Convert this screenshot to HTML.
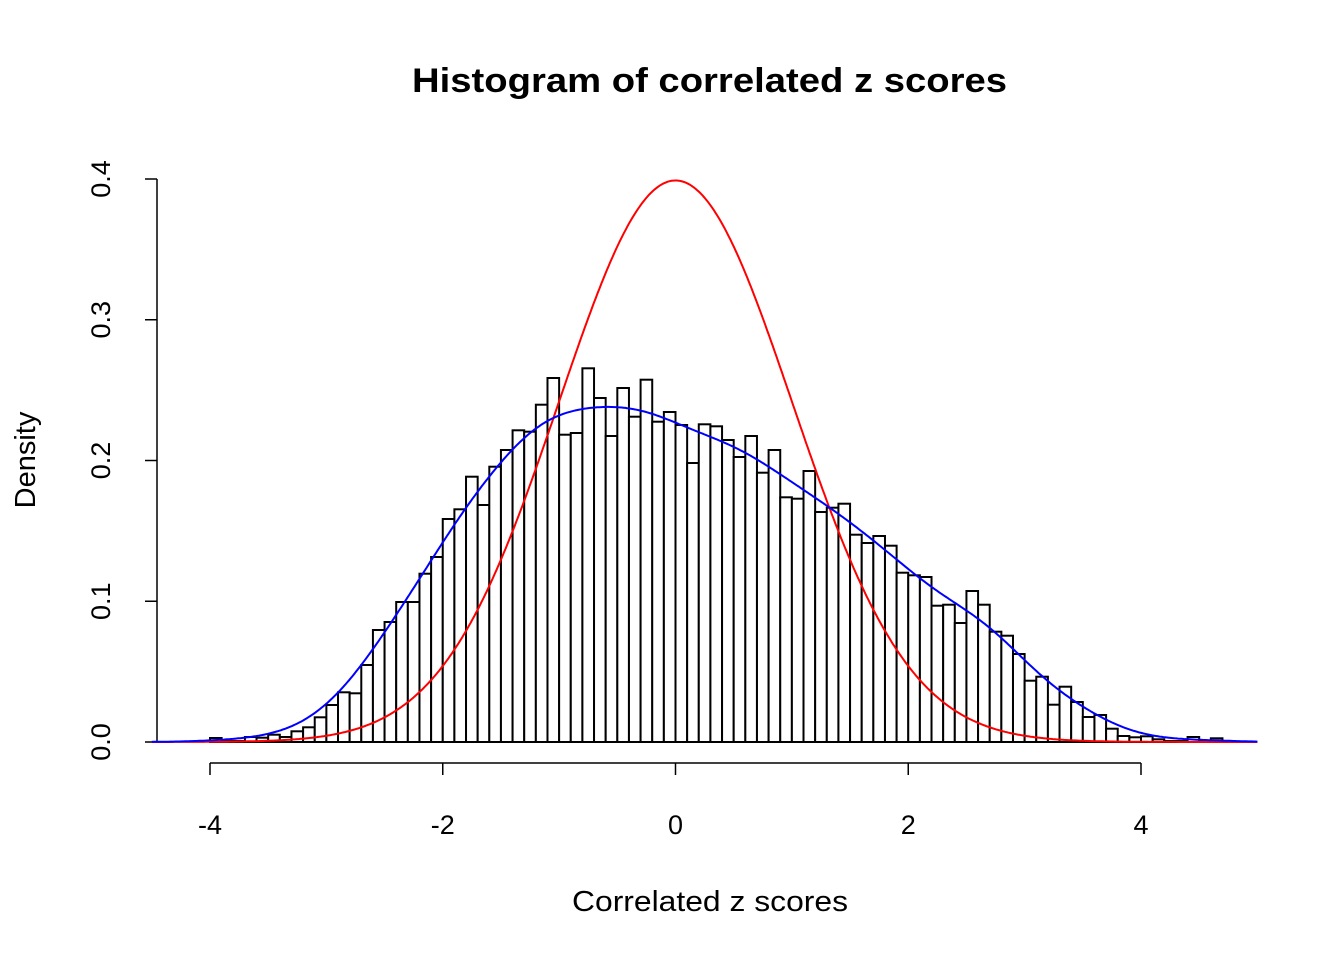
<!DOCTYPE html>
<html><head><meta charset="utf-8"><style>body{margin:0;background:#fff}svg{display:block}text{font-family:"Liberation Sans",Arial,sans-serif;fill:#000}</style></head>
<body>
<svg id="s" width="1344" height="960" xmlns="http://www.w3.org/2000/svg">
<text x="412" y="92" font-size="34" font-weight="bold" textLength="595" lengthAdjust="spacingAndGlyphs">Histogram of correlated z scores</text>
<text x="572" y="911" font-size="29" textLength="276" lengthAdjust="spacingAndGlyphs">Correlated z scores</text>
<text transform="translate(35,460) rotate(-90)" font-size="29" text-anchor="middle">Density</text>
<g stroke="#000" stroke-width="1.5" fill="none">
<line x1="157" y1="179" x2="157" y2="742"/>
<line x1="210" y1="763" x2="1141" y2="763"/>
</g>
<g id="ax"></g>
<g id="bars" stroke="#000" stroke-width="2" fill="#fff"></g>
<path id="red" stroke="#f00" stroke-width="2" fill="none"/>
<path id="blue" stroke="#00f" stroke-width="2" fill="none"/>
</svg>
<script>
var X=function(v){return 675.5+v*116.375}, Y0=742;
var ax=document.getElementById('ax'),h='';
for(var i=0;i<=4;i++){var y=742-i*140.75;h+='<line x1="157" y1="'+y+'" x2="145" y2="'+y+'" stroke="#000" stroke-width="1.5"/><text transform="translate(110,'+y+') rotate(-90)" font-size="27" text-anchor="middle">'+(i/10).toFixed(1)+'</text>';}
for(var v=-4;v<=4;v+=2){var x=X(v);h+='<line x1="'+x+'" y1="763" x2="'+x+'" y2="775" stroke="#000" stroke-width="1.5"/><text x="'+x+'" y="834" font-size="27" text-anchor="middle">'+v+'</text>';}
ax.innerHTML=h;
var tops={"-4.0":738,"-3.9":741,"-3.8":741,"-3.7":737,"-3.6":737.7,"-3.5":734.7,"-3.4":737,"-3.3":731.3,"-3.2":727.3,"-3.1":717.3,"-3.0":705,"-2.9":692.3,"-2.8":693.3,"-2.7":665,"-2.6":630,"-2.5":622,"-2.4":602,"-2.3":602,"-2.2":573.7,"-2.1":557,"-2.0":519,"-1.9":509.3,"-1.8":476.7,"-1.7":505,"-1.6":466.7,"-1.5":450,"-1.4":430.3,"-1.3":431.7,"-1.2":404.7,"-1.1":378,"-1.0":434.7,"-0.9":433,"-0.8":368.3,"-0.7":398,"-0.6":436,"-0.5":388,"-0.4":416.7,"-0.3":379.7,"-0.2":421.7,"-0.1":412,"0.0":425,"0.1":463,"0.2":424.3,"0.3":426.3,"0.4":440,"0.5":457,"0.6":436,"0.7":472.7,"0.8":450,"0.9":497.3,"1.0":498.7,"1.1":471,"1.2":512,"1.3":507.7,"1.4":503.7,"1.5":534.7,"1.6":543,"1.7":536,"1.8":545.7,"1.9":572.7,"2.0":575.3,"2.1":577,"2.2":605.7,"2.3":604.7,"2.4":623,"2.5":591,"2.6":604.7,"2.7":631.7,"2.8":635.7,"2.9":654,"3.0":680.7,"3.1":676.7,"3.2":704.7,"3.3":686.7,"3.4":702,"3.5":717,"3.6":715,"3.7":728.7,"3.8":736,"3.9":737.3,"4.0":736.3,"4.1":739.3,"4.2":741,"4.3":741,"4.4":737,"4.5":741,"4.6":738.3};
var b='',cs=[],ds=[];
for(var k=-40;k<=46;k++){var key=(k/10).toFixed(1);if(key=="-0.0")key="0.0";var t=tops[key];if(t===undefined)continue;
var x1=X(k/10),w=11.6375;b+='<rect x="'+x1+'" y="'+t+'" width="'+w+'" height="'+(Y0-t)+'"/>';cs.push(k/10+0.05);ds.push((Y0-t)/1407.5);}
document.getElementById('bars').innerHTML=b;
var r='',bl='',bw=0.3;
for(var i=0;i<=600;i++){var v=-4.5+9.5*i/600;var d=Math.exp(-v*v/2)/Math.sqrt(2*Math.PI);
r+=(i?'L':'M')+X(v).toFixed(1)+' '+(Y0-d*1407.5).toFixed(1);
var s=0;for(var j=0;j<cs.length;j++){var z=(v-cs[j])/bw;s+=ds[j]*0.1*Math.exp(-z*z/2);}s/=bw*Math.sqrt(2*Math.PI);
bl+=(i?'L':'M')+X(v).toFixed(1)+' '+(Y0-s*1407.5).toFixed(1);}
document.getElementById('red').setAttribute('d',r);document.getElementById('blue').setAttribute('d',bl);
</script>
</body></html>
